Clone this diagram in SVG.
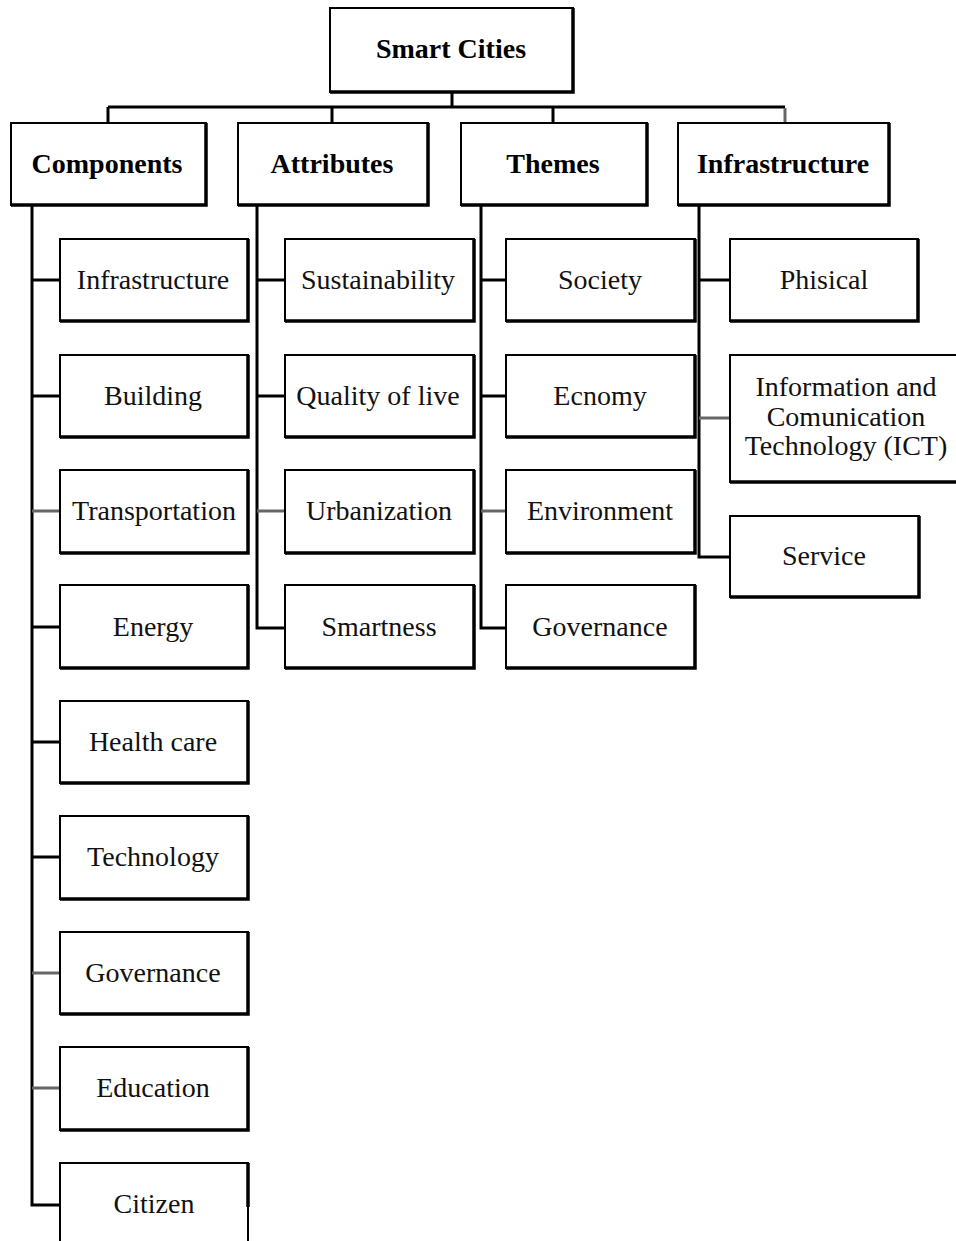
<svg xmlns="http://www.w3.org/2000/svg" width="956" height="1241" viewBox="0 0 956 1241">
<style>
.box{fill:#fff;stroke:#000;stroke-width:2}
.sh{fill:none;stroke:#000;stroke-width:3.5}
.ln{fill:none;stroke:#000;stroke-width:3}
.gl{fill:none;stroke:#666;stroke-width:3}
.h{font-family:"Liberation Serif","Times New Roman",serif;font-size:28px;font-weight:bold;text-anchor:middle;fill:#000}
.t{font-family:"Liberation Serif","Times New Roman",serif;font-size:28px;text-anchor:middle;fill:#111}
</style>
<rect width="956" height="1241" fill="#fff"/>
<g id="connectors">
<path class="ln" d="M452 92V107M108 107H785M108 107V123M332 107V123M553 107V123"/>
<path class="gl" d="M785 108V123"/>
<path class="ln" d="M32 205V1205H60M32 280H60M32 396H60M32 627H60M32 742H60M32 857H60"/>
<path class="gl" d="M32 511H60M32 973H60M32 1088H60"/>
<path class="ln" d="M257 205V628H285M257 280H285M257 396H285"/>
<path class="gl" d="M257 511H285"/>
<path class="ln" d="M481 205V628H506M481 280H506M481 396H506"/>
<path class="gl" d="M481 511H506"/>
<path class="ln" d="M699 205V557H730M699 280H730"/>
<path class="gl" d="M699 418H730"/>
</g>
<g id="n-smart-cities"><rect class="box" x="330" y="8" width="243" height="84"/><path class="sh" d="M573 8V92H330"/><text class="h" x="451" y="58">Smart Cities</text></g>
<g id="n-components"><rect class="box" x="11" y="123" width="195" height="82"/><path class="sh" d="M206 123V205H11"/><text class="h" x="107" y="173">Components</text></g>
<g id="n-attributes"><rect class="box" x="238" y="123" width="190" height="82"/><path class="sh" d="M428 123V205H238"/><text class="h" x="332" y="173">Attributes</text></g>
<g id="n-themes"><rect class="box" x="461" y="123" width="186" height="82"/><path class="sh" d="M647 123V205H461"/><text class="h" x="553" y="173">Themes</text></g>
<g id="n-infrastructure"><rect class="box" x="678" y="123" width="211" height="82"/><path class="sh" d="M889 123V205H678"/><text class="h" x="783" y="173">Infrastructure</text></g>
<g id="c-infrastructure"><rect class="box" x="60" y="239" width="188" height="82"/><path class="sh" d="M248 239V321H60"/><text class="t" x="153" y="289">Infrastructure</text></g>
<g id="c-building"><rect class="box" x="60" y="355" width="188" height="82"/><path class="sh" d="M248 355V437H60"/><text class="t" x="153" y="405">Building</text></g>
<g id="c-transportation"><rect class="box" x="60" y="470" width="188" height="83"/><path class="sh" d="M248 470V553H60"/><text class="t" x="154" y="520">Transportation</text></g>
<g id="c-energy"><rect class="box" x="60" y="585" width="188" height="83"/><path class="sh" d="M248 585V668H60"/><text class="t" x="153" y="636">Energy</text></g>
<g id="c-health"><rect class="box" x="60" y="701" width="188" height="82"/><path class="sh" d="M248 701V783H60"/><text class="t" x="153" y="751">Health care</text></g>
<g id="c-technology"><rect class="box" x="60" y="816" width="188" height="83"/><path class="sh" d="M248 816V899H60"/><text class="t" x="153" y="866">Technology</text></g>
<g id="c-governance"><rect class="box" x="60" y="932" width="188" height="82"/><path class="sh" d="M248 932V1014H60"/><text class="t" x="153" y="982">Governance</text></g>
<g id="c-education"><rect class="box" x="60" y="1047" width="188" height="83"/><path class="sh" d="M248 1047V1130H60"/><text class="t" x="153" y="1097">Education</text></g>
<g id="c-citizen"><rect class="box" x="60" y="1163" width="188" height="100"/><path class="sh" d="M248 1163V1207"/><text class="t" x="154" y="1213">Citizen</text></g>
<g id="a-sustainability"><rect class="box" x="285" y="239" width="189" height="82"/><path class="sh" d="M474 239V321H285"/><text class="t" x="378" y="289">Sustainability</text></g>
<g id="a-quality"><rect class="box" x="285" y="355" width="189" height="82"/><path class="sh" d="M474 355V437H285"/><text class="t" x="378" y="405">Quality of live</text></g>
<g id="a-urbanization"><rect class="box" x="285" y="470" width="189" height="83"/><path class="sh" d="M474 470V553H285"/><text class="t" x="379" y="520">Urbanization</text></g>
<g id="a-smartness"><rect class="box" x="285" y="585" width="189" height="83"/><path class="sh" d="M474 585V668H285"/><text class="t" x="379" y="636">Smartness</text></g>
<g id="t-society"><rect class="box" x="506" y="239" width="189" height="82"/><path class="sh" d="M695 239V321H506"/><text class="t" x="600" y="289">Society</text></g>
<g id="t-economy"><rect class="box" x="506" y="355" width="189" height="82"/><path class="sh" d="M695 355V437H506"/><text class="t" x="600" y="405">Ecnomy</text></g>
<g id="t-environment"><rect class="box" x="506" y="470" width="189" height="83"/><path class="sh" d="M695 470V553H506"/><text class="t" x="600" y="520">Environment</text></g>
<g id="t-governance"><rect class="box" x="506" y="585" width="189" height="83"/><path class="sh" d="M695 585V668H506"/><text class="t" x="600" y="636">Governance</text></g>
<g id="i-phisical"><rect class="box" x="730" y="239" width="188" height="82"/><path class="sh" d="M918 239V321H730"/><text class="t" x="824" y="289">Phisical</text></g>
<g id="i-ict"><rect class="box" x="730" y="355" width="240" height="127"/><path class="sh" d="M960 482H730"/><text class="t" x="846" y="396">Information and</text><text class="t" x="846" y="426">Comunication</text><text class="t" x="846" y="455">Technology (ICT)</text></g>
<g id="i-service"><rect class="box" x="730" y="516" width="189" height="81"/><path class="sh" d="M919 516V597H730"/><text class="t" x="824" y="565">Service</text></g>
</svg>
